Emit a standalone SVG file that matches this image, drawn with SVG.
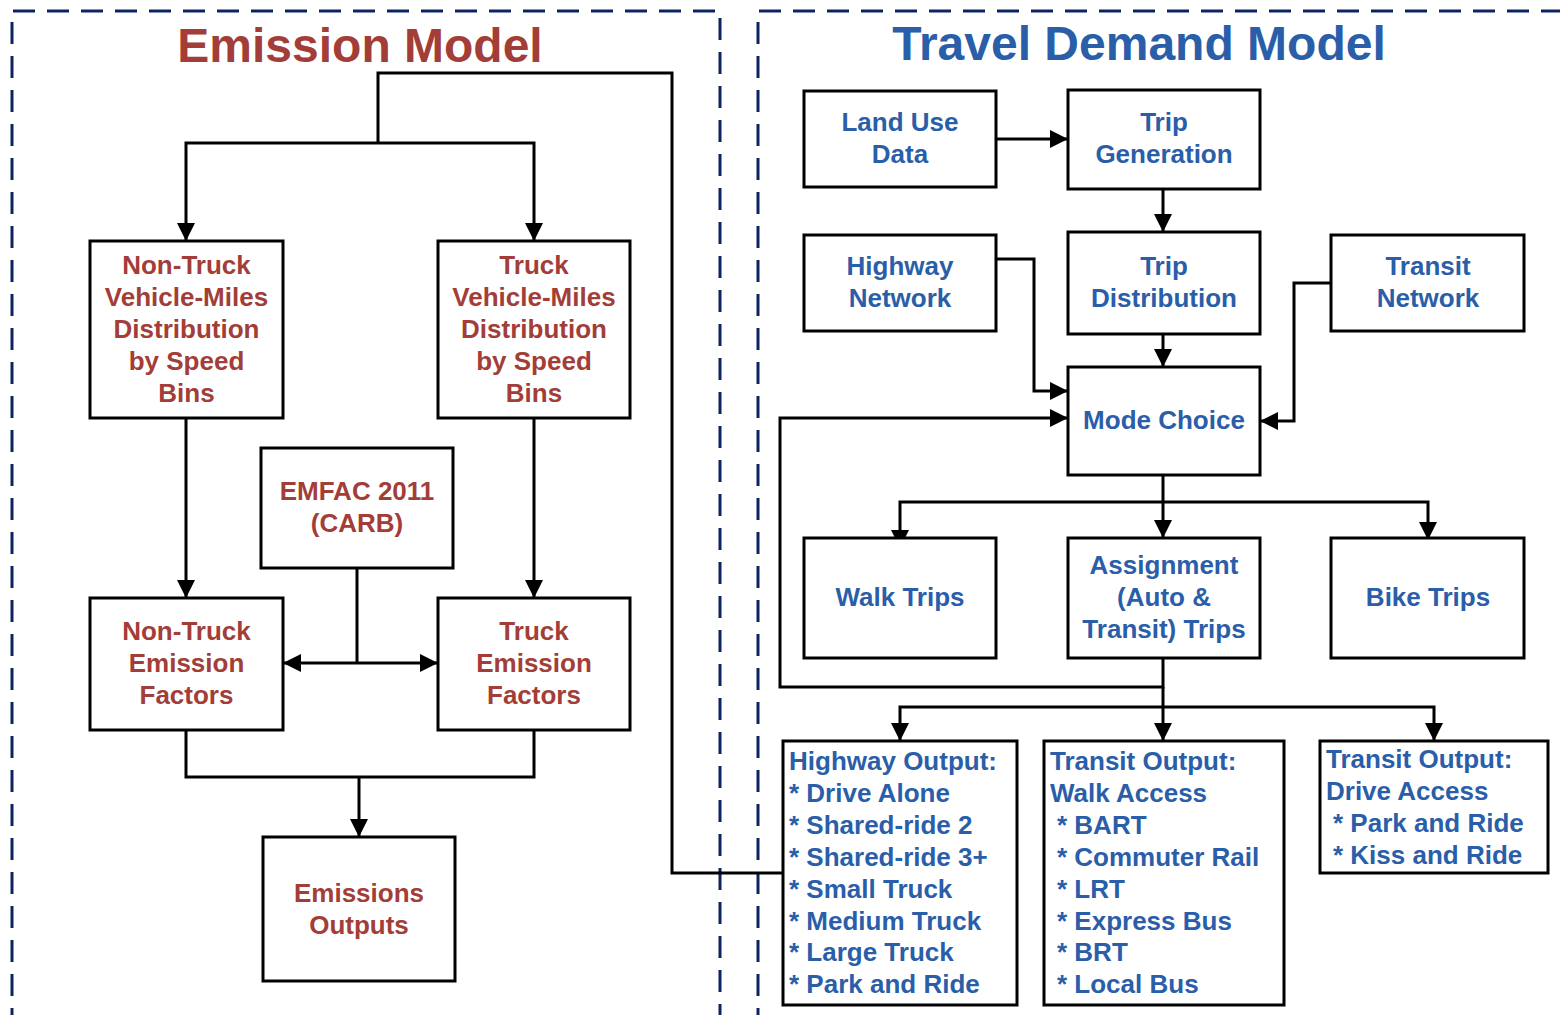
<svg xmlns="http://www.w3.org/2000/svg" width="1560" height="1015" viewBox="0 0 1560 1015">
<style>
.frame{fill:none;stroke:#0c2461;stroke-width:3;stroke-dasharray:22 12}
.box{fill:#fff;stroke:#000;stroke-width:3}
.ln{fill:none;stroke:#000;stroke-width:3}
.r{font-family:"Liberation Sans",Arial,sans-serif;font-weight:bold;font-size:26px;fill:#a33d38;text-anchor:middle}
.b{font-family:"Liberation Sans",Arial,sans-serif;font-weight:bold;font-size:26px;fill:#2a5ea9;text-anchor:middle}
.bl{font-family:"Liberation Sans",Arial,sans-serif;font-weight:bold;font-size:26px;fill:#2a5ea9}
.title{font-family:"Liberation Sans",Arial,sans-serif;font-weight:bold;font-size:48px;text-anchor:middle}
</style>
<defs>
<marker id="ah" viewBox="0 0 18 18" refX="18" refY="9" markerWidth="18" markerHeight="18" markerUnits="userSpaceOnUse" orient="auto">
<path d="M0,0 L18,9 L0,18 z" fill="#000"/>
</marker>
</defs>
<rect width="1560" height="1015" fill="#fff"/>
<path class="frame" d="M12,1030 V11 H720 V1030"/>
<path class="frame" d="M758,1030 V11 H1580"/>
<text class="title" x="360" y="62" fill="#a33d38">Emission Model</text>
<text class="title" x="1139" y="60" fill="#2a5ea9">Travel Demand Model</text>

<g id="connectors">
<path class="ln" d="M783,873 H672 V73 H378 V143"/>
<path class="ln" d="M378,143 H186 V241" marker-end="url(#ah)"/>
<path class="ln" d="M378,143 H534 V241" marker-end="url(#ah)"/>
<path class="ln" d="M186,418 V598" marker-end="url(#ah)"/>
<path class="ln" d="M534,418 V598" marker-end="url(#ah)"/>
<path class="ln" d="M357,568 V663"/>
<path class="ln" d="M357,663 H283" marker-end="url(#ah)"/>
<path class="ln" d="M357,663 H438" marker-end="url(#ah)"/>
<path class="ln" d="M186,730 V777 H534 V730"/>
<path class="ln" d="M359,777 V837" marker-end="url(#ah)"/>
<path class="ln" d="M996,139 H1068" marker-end="url(#ah)"/>
<path class="ln" d="M1163,189 V232" marker-end="url(#ah)"/>
<path class="ln" d="M1163,334 V367" marker-end="url(#ah)"/>
<path class="ln" d="M996,259 H1034 V391 H1068" marker-end="url(#ah)"/>
<path class="ln" d="M1331,283 H1294 V421 H1260" marker-end="url(#ah)"/>
<path class="ln" d="M1163,658 V687 H780 V418 H1068" marker-end="url(#ah)"/>
<path class="ln" d="M1163,475 V538" marker-end="url(#ah)"/>
<path class="ln" d="M1163,502 H900 V548" marker-end="url(#ah)"/>
<path class="ln" d="M1163,502 H1428 V540" marker-end="url(#ah)"/>
<path class="ln" d="M1163,687 V741" marker-end="url(#ah)"/>
<path class="ln" d="M1163,707 H900 V741" marker-end="url(#ah)"/>
<path class="ln" d="M1163,707 H1434 V741" marker-end="url(#ah)"/>
</g>

<g id="nontruck-vmt">
<rect class="box" x="90" y="241" width="193" height="177"/>
<text class="r" x="186.5" y="274">Non-Truck</text>
<text class="r" x="186.5" y="306">Vehicle-Miles</text>
<text class="r" x="186.5" y="338">Distribution</text>
<text class="r" x="186.5" y="370">by Speed</text>
<text class="r" x="186.5" y="402">Bins</text>
</g>
<g id="truck-vmt">
<rect class="box" x="438" y="241" width="192" height="177"/>
<text class="r" x="534" y="274">Truck</text>
<text class="r" x="534" y="306">Vehicle-Miles</text>
<text class="r" x="534" y="338">Distribution</text>
<text class="r" x="534" y="370">by Speed</text>
<text class="r" x="534" y="402">Bins</text>
</g>
<g id="emfac">
<rect class="box" x="261" y="448" width="192" height="120"/>
<text class="r" x="357" y="500">EMFAC 2011</text>
<text class="r" x="357" y="532">(CARB)</text>
</g>
<g id="nontruck-ef">
<rect class="box" x="90" y="598" width="193" height="132"/>
<text class="r" x="186.5" y="640">Non-Truck</text>
<text class="r" x="186.5" y="672">Emission</text>
<text class="r" x="186.5" y="704">Factors</text>
</g>
<g id="truck-ef">
<rect class="box" x="438" y="598" width="192" height="132"/>
<text class="r" x="534" y="640">Truck</text>
<text class="r" x="534" y="672">Emission</text>
<text class="r" x="534" y="704">Factors</text>
</g>
<g id="emissions-outputs">
<rect class="box" x="263" y="837" width="192" height="144"/>
<text class="r" x="359" y="902">Emissions</text>
<text class="r" x="359" y="934">Outputs</text>
</g>

<g id="land-use">
<rect class="box" x="804" y="91" width="192" height="96"/>
<text class="b" x="900" y="131">Land Use</text>
<text class="b" x="900" y="163">Data</text>
</g>
<g id="trip-generation">
<rect class="box" x="1068" y="90" width="192" height="99"/>
<text class="b" x="1164" y="131">Trip</text>
<text class="b" x="1164" y="163">Generation</text>
</g>
<g id="highway-network">
<rect class="box" x="804" y="235" width="192" height="96"/>
<text class="b" x="900" y="275">Highway</text>
<text class="b" x="900" y="307">Network</text>
</g>
<g id="trip-distribution">
<rect class="box" x="1068" y="232" width="192" height="102"/>
<text class="b" x="1164" y="275">Trip</text>
<text class="b" x="1164" y="307">Distribution</text>
</g>
<g id="transit-network">
<rect class="box" x="1331" y="235" width="193" height="96"/>
<text class="b" x="1428" y="275">Transit</text>
<text class="b" x="1428" y="307">Network</text>
</g>
<g id="mode-choice">
<rect class="box" x="1068" y="367" width="192" height="108"/>
<text class="b" x="1164" y="429">Mode Choice</text>
</g>
<g id="walk-trips">
<rect class="box" x="804" y="538" width="192" height="120"/>
<text class="b" x="900" y="606">Walk Trips</text>
</g>
<g id="assignment">
<rect class="box" x="1068" y="538" width="192" height="120"/>
<text class="b" x="1164" y="574">Assignment</text>
<text class="b" x="1164" y="606">(Auto &amp;</text>
<text class="b" x="1164" y="638">Transit) Trips</text>
</g>
<g id="bike-trips">
<rect class="box" x="1331" y="538" width="193" height="120"/>
<text class="b" x="1428" y="606">Bike Trips</text>
</g>
<g id="highway-output">
<rect class="box" x="783" y="741" width="234" height="264"/>
<text class="bl" x="789" y="770">Highway Output:</text>
<text class="bl" x="789" y="802">* Drive Alone</text>
<text class="bl" x="789" y="834">* Shared-ride 2</text>
<text class="bl" x="789" y="866">* Shared-ride 3+</text>
<text class="bl" x="789" y="898">* Small Truck</text>
<text class="bl" x="789" y="930">* Medium Truck</text>
<text class="bl" x="789" y="961">* Large Truck</text>
<text class="bl" x="789" y="993">* Park and Ride</text>
</g>
<g id="transit-output-walk">
<rect class="box" x="1044" y="741" width="240" height="264"/>
<text class="bl" x="1050" y="770">Transit Output:</text>
<text class="bl" x="1050" y="802">Walk Access</text>
<text class="bl" x="1057" y="834">* BART</text>
<text class="bl" x="1057" y="866">* Commuter Rail</text>
<text class="bl" x="1057" y="898">* LRT</text>
<text class="bl" x="1057" y="930">* Express Bus</text>
<text class="bl" x="1057" y="961">* BRT</text>
<text class="bl" x="1057" y="993">* Local Bus</text>
</g>
<g id="transit-output-drive">
<rect class="box" x="1320" y="741" width="228" height="132"/>
<text class="bl" x="1326" y="768">Transit Output:</text>
<text class="bl" x="1326" y="800">Drive Access</text>
<text class="bl" x="1333" y="832">* Park and Ride</text>
<text class="bl" x="1333" y="864">* Kiss and Ride</text>
</g>
</svg>
